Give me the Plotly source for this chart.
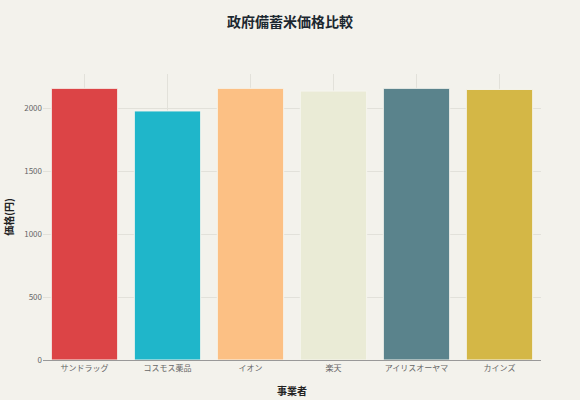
import plotly.graph_objects as go

stores = ["サンドラッグ", "コスモス薬品", "イオン", "楽天", "アイリスオーヤマ", "カインズ"]
prices = [2160, 1980, 2160, 2138, 2160, 2151]
colors = ["#dc4446", "#1fb6ca", "#fcc084", "#eaebd6", "#5a838c", "#d4b746"]

fig = go.Figure()
fig.add_trace(go.Bar(x=stores, y=prices, marker=dict(color=colors, line=dict(color="#f6f5ef", width=1))))

fig.update_layout(
    title=dict(text="<b>政府備蓄米価格比較</b>", x=0.5, y=0.945, xanchor="center", yanchor="middle",
               font=dict(size=14, color="#1c2830", family="Noto Sans CJK JP")),
    paper_bgcolor="#f3f2ec", plot_bgcolor="#f3f2ec",
    margin=dict(l=43, r=39, t=74, b=40, autoexpand=False),
    font=dict(family="Noto Sans CJK JP", size=9, color="#555"),
    showlegend=False,
    bargap=0.2,
)
fig.update_xaxes(title=dict(text="<b>事業者</b>", font=dict(size=10, color="#222"), standoff=16),
                 showgrid=True, gridcolor="#e2e1da", linecolor="#999", showline=True,
                 tickfont=dict(size=8, color="#666"), automargin=False)
fig.update_yaxes(title=dict(text="<b>価格(円)</b>", font=dict(size=10, color="#222"), standoff=8),
                 showgrid=True, gridcolor="#e2e1da", zeroline=False, automargin=False,
                 tickfont=dict(size=8, color="#666"), tickvals=[0, 500, 1000, 1500, 2000])

fig.write_html("out.html", default_width="100vw", default_height="100vh",
               config={"displayModeBar": False},
               post_script="document.body.style.margin='0';")
